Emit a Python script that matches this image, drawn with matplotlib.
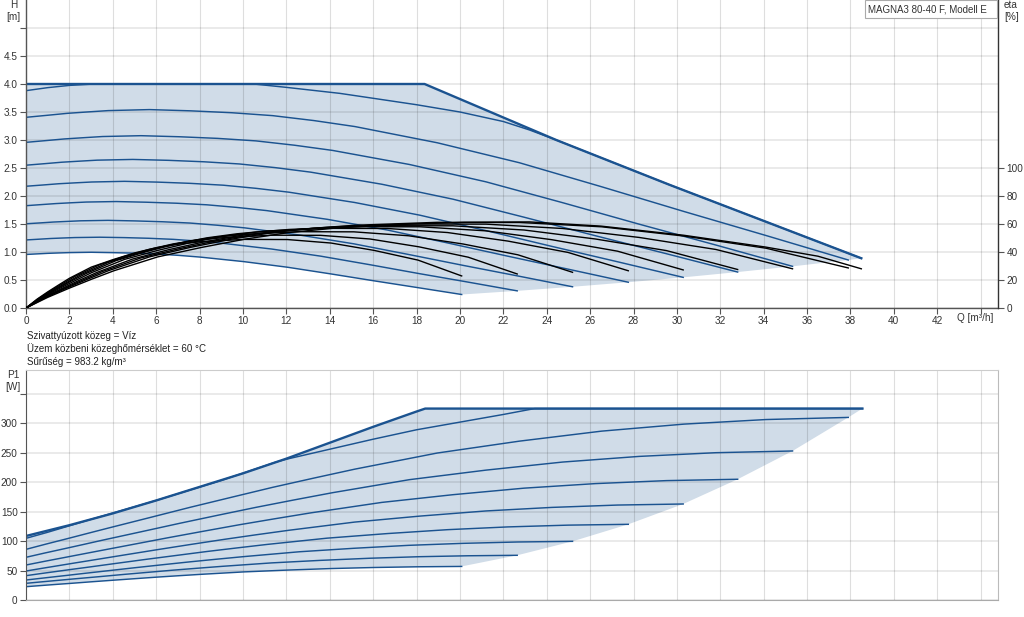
import matplotlib
matplotlib.use("Agg")
import matplotlib.pyplot as plt
from matplotlib.patches import Rectangle

# ---------------- data ----------------
# Max envelope (head) and max power envelope
maxH_Q = [0, 18.37, 24.44, 29.66, 38.5]
maxH_H = [4.0, 4.0, 3.0, 2.2, 0.888]
maxP_Q = [0, 2, 4, 6, 8, 10, 12, 14, 16, 18, 18.4, 38.55]
maxP_P = [108.7, 127, 147, 169, 192, 215, 240, 267, 294, 320, 325, 325]

# c1: highest speed curve (limited by H=4.0 and by max power)
c1_Q_H = [0, 1, 2, 3, 4, 10.5, 12, 14.46, 16, 18, 20, 22, 23.2, 24.44, 29.66, 38.5]
c1_H = [3.881, 3.935, 3.975, 3.997, 4.0, 4.0, 3.94, 3.833, 3.745, 3.63, 3.5, 3.33, 3.18, 3.0, 2.2, 0.888]
c1_Q_E = [0, 1.0, 2.0, 3.03, 4.05, 6.07, 8.1, 10.1, 12.1, 14.2, 16.2, 20.2, 23.2, 26.5, 30.3, 34.1, 36.5, 38.5]
c1_E = [0, 7.6, 14.2, 20.6, 26.6, 36.5, 43.3, 49.2, 53.9, 57.0, 59.1, 61.2, 61.5, 58.5, 52.0, 43.5, 37.0, 28.0]
c1_Q_P = [0, 1, 2, 3, 6, 9, 11.5, 12, 14, 16, 18, 20, 22, 23.44, 38.55]
c1_P = [104.7, 115, 126, 137, 169, 203, 234, 239, 256, 273, 289, 302, 315, 325, 325]

# speed curves c2..c9: flow [m3/h], head [m], eta [%], P1 [W]
c2_Q = [0, 0.95, 1.9, 2.84, 3.79, 5.69, 7.58, 9.48, 11.37, 13.27, 15.16, 18.95, 22.74, 26.53, 30.32, 34.11, 37.9]
c2_H = [3.405, 3.44, 3.476, 3.501, 3.525, 3.543, 3.521, 3.487, 3.435, 3.347, 3.24, 2.951, 2.594, 2.165, 1.724, 1.294, 0.857]
c2_E = [0, 7.8, 14.4, 20.6, 26.6, 36.5, 43.3, 49.2, 53.9, 57.0, 59.1, 61.2, 61.1, 58.0, 51.4, 42.7, 28.6]
c2_P = [86, 95.2, 104.1, 113.1, 122.1, 139.8, 157.5, 174.5, 191.3, 207.0, 222.2, 249.5, 269.7, 286.7, 298.6, 306.4, 310]

c3_Q = [0, 0.88, 1.77, 2.65, 3.53, 5.30, 7.07, 8.83, 10.60, 12.37, 14.13, 17.67, 21.20, 24.73, 28.26, 31.80, 35.33]
c3_H = [2.958, 2.988, 3.019, 3.041, 3.062, 3.077, 3.058, 3.029, 2.984, 2.907, 2.814, 2.563, 2.253, 1.881, 1.497, 1.124, 0.744]
c3_E = [0, 7.6, 14.1, 20.2, 26.1, 35.8, 42.4, 48.2, 52.8, 55.9, 57.9, 60.0, 59.9, 56.8, 50.4, 41.8, 28.0]
c3_P = [72.5, 79.9, 87.1, 94.3, 101.6, 115.8, 130.1, 143.8, 157.3, 170.0, 182.2, 204.3, 220.5, 234.2, 243.8, 250.1, 253]

c4_Q = [0, 0.82, 1.64, 2.46, 3.28, 4.92, 6.56, 8.20, 9.84, 11.48, 13.12, 16.40, 19.68, 22.96, 26.24, 29.52, 32.8]
c4_H = [2.550, 2.576, 2.603, 2.622, 2.640, 2.653, 2.637, 2.611, 2.572, 2.507, 2.426, 2.210, 1.943, 1.621, 1.291, 0.969, 0.642]
c4_E = [0, 7.5, 13.8, 19.8, 25.5, 35.0, 41.6, 47.2, 51.7, 54.7, 56.7, 58.8, 58.7, 55.7, 49.3, 41.0, 27.5]
c4_P = [59.4, 65.4, 71.2, 77.0, 82.8, 94.3, 105.8, 116.9, 127.8, 138.0, 147.9, 165.7, 178.8, 189.9, 197.6, 202.7, 205]

c5_Q = [0, 0.76, 1.51, 2.27, 3.03, 4.54, 6.06, 7.57, 9.09, 10.60, 12.12, 15.15, 18.17, 21.20, 24.23, 27.26, 30.29]
c5_H = [2.174, 2.196, 2.219, 2.235, 2.250, 2.262, 2.248, 2.226, 2.193, 2.137, 2.068, 1.884, 1.656, 1.382, 1.101, 0.826, 0.547]
c5_E = [0, 7.4, 13.7, 19.6, 25.3, 34.7, 41.1, 46.7, 51.2, 54.2, 56.1, 58.1, 58.0, 55.1, 48.8, 40.6, 27.2]
c5_P = [49.2, 53.9, 58.4, 63.0, 67.5, 76.5, 85.5, 94.2, 102.7, 110.7, 118.4, 132.3, 142.5, 151.2, 157.2, 161.2, 163]

c6_Q = [0, 0.69, 1.39, 2.08, 2.78, 4.16, 5.55, 6.94, 8.33, 9.72, 11.10, 13.88, 16.66, 19.43, 22.21, 24.98, 27.76]
c6_H = [1.827, 1.846, 1.865, 1.879, 1.892, 1.901, 1.889, 1.871, 1.843, 1.796, 1.739, 1.584, 1.392, 1.162, 0.925, 0.694, 0.460]
c6_E = [0, 7.3, 13.4, 19.2, 24.7, 33.9, 40.3, 45.8, 50.1, 53.0, 55.0, 56.9, 56.8, 53.9, 47.8, 39.7, 26.6]
c6_P = [41.3, 44.9, 48.4, 51.9, 55.3, 62.2, 69.1, 75.7, 82.3, 88.4, 94.3, 105.0, 112.8, 119.4, 124.1, 127.1, 128.5]

c7_Q = [0, 0.63, 1.26, 1.89, 2.52, 3.78, 5.04, 6.30, 7.56, 8.82, 10.08, 12.60, 15.11, 17.63, 20.15, 22.67, 25.19]
c7_H = [1.504, 1.519, 1.535, 1.546, 1.557, 1.565, 1.555, 1.540, 1.517, 1.478, 1.431, 1.303, 1.146, 0.956, 0.761, 0.572, 0.379]
c7_E = [0, 6.9, 12.8, 18.3, 23.7, 32.5, 38.5, 43.8, 48.0, 50.7, 52.6, 54.5, 54.4, 51.6, 45.7, 38.0, 25.5]
c7_P = [33.9, 36.6, 39.2, 41.8, 44.5, 49.7, 54.9, 59.9, 64.8, 69.4, 73.8, 81.9, 87.8, 92.8, 96.2, 98.5, 99.6]

c8_Q = [0, 0.57, 1.13, 1.70, 2.26, 3.40, 4.53, 5.66, 6.79, 7.92, 9.06, 11.32, 13.58, 15.85, 18.11, 20.38, 22.64]
c8_H = [1.215, 1.228, 1.241, 1.250, 1.258, 1.264, 1.257, 1.245, 1.226, 1.195, 1.156, 1.053, 0.926, 0.773, 0.615, 0.462, 0.306]
c8_E = [0, 6.6, 12.2, 17.5, 22.6, 31.0, 36.8, 41.8, 45.8, 48.5, 50.2, 52.0, 51.9, 49.3, 43.7, 36.3, 24.3]
c8_P = [28.3, 30.3, 32.2, 34.1, 36.0, 39.7, 43.5, 47.1, 50.7, 54.0, 57.2, 63.0, 67.3, 70.9, 73.5, 75.1, 75.9]

c9_Q = [0, 0.50, 1.00, 1.51, 2.01, 3.01, 4.02, 5.02, 6.02, 7.03, 8.03, 10.04, 12.05, 14.06, 16.06, 18.07, 20.08]
c9_H = [0.956, 0.966, 0.976, 0.983, 0.989, 0.995, 0.988, 0.979, 0.964, 0.940, 0.909, 0.828, 0.728, 0.608, 0.484, 0.363, 0.241]
c9_E = [0, 6.2, 11.5, 16.5, 21.3, 29.2, 34.6, 39.4, 43.1, 45.6, 47.3, 49.0, 48.9, 46.4, 41.1, 34.2, 22.9]
c9_P = [22.6, 24.0, 25.4, 26.8, 28.1, 30.9, 33.6, 36.2, 38.8, 41.2, 43.5, 47.7, 50.8, 53.4, 55.2, 56.4, 57]

x_ticks = list(range(0, 45, 2))
h_ticks = [0, 0.5, 1.0, 1.5, 2.0, 2.5, 3.0, 3.5, 4.0, 4.5, 5.0]
eta_ticks = [0, 20, 40, 60, 80, 100]
p_ticks = [0, 50, 100, 150, 200, 250, 300, 350]

title_box = "MAGNA3 80-40 F, Modell E"
info_lines = ["Szivattyúzott közeg = Víz",
              "Üzem közbeni közeghőmérséklet = 60 °C",
              "Sűrűség = 983.2 kg/m³"]

# ---------------- styling ----------------
plt.rcParams['font.family'] = ['Liberation Sans', 'DejaVu Sans']
BLUE = '#1b5390'
FILL = '#d0dce8'
TXT = '#333333'
FS = 7.2

W, Hpx = 1024, 617
fig = plt.figure(figsize=(W / 100, Hpx / 100), dpi=100)


def px_axes(l, t, r, b):
    return fig.add_axes([l / W, 1 - b / Hpx, (r - l) / W, (b - t) / Hpx])


def style_grid(a):
    a.xaxis.grid(True, color='black', alpha=0.13, lw=0.8)
    a.yaxis.grid(True, color='black', alpha=0.09, lw=1.3)


speed = [(c2_Q, c2_H, c2_E, c2_P), (c3_Q, c3_H, c3_E, c3_P), (c4_Q, c4_H, c4_E, c4_P),
         (c5_Q, c5_H, c5_E, c5_P), (c6_Q, c6_H, c6_E, c6_P), (c7_Q, c7_H, c7_E, c7_P),
         (c8_Q, c8_H, c8_E, c8_P), (c9_Q, c9_H, c9_E, c9_P)]

# ---------------- top: head + efficiency ----------------
ax = px_axes(26, 0, 998, 308)
ax.set_xlim(0, 44.8)
ax.set_ylim(0, 5.5)
ax.set_axisbelow('line')

poly_x = list(maxH_Q) + [s[0][-1] for s in speed] + list(c9_Q[::-1])
poly_y = list(maxH_H) + [s[1][-1] for s in speed] + list(c9_H[::-1])
ax.fill(poly_x, poly_y, color=FILL, lw=0, zorder=1)

for q, h, e, p in speed:
    ax.plot(q, h, color=BLUE, lw=1.05, zorder=2)
ax.plot(c1_Q_H, c1_H, color=BLUE, lw=1.05, zorder=2)
ax.plot(maxH_Q, maxH_H, color=BLUE, lw=1.7, zorder=2.1)

ax.set_xticks(x_ticks)
ax.set_xticklabels([str(v) if v <= 42 else '' for v in x_ticks])
ax.set_yticks(h_ticks)
ax.set_yticklabels([f"{v:.1f}" if v < 5 else '' for v in h_ticks])
style_grid(ax)
ax.tick_params(direction='out', length=4, width=0.8, color='#555555',
               labelcolor=TXT, labelsize=FS, pad=2)
ax.spines['top'].set_visible(False)
ax.spines['right'].set_visible(False)
for sp in ('left', 'bottom'):
    ax.spines[sp].set_color('#555555')
    ax.spines[sp].set_linewidth(1.0)

ax2 = ax.twinx()
ax2.set_ylim(0, 220)
for q, h, e, p in speed:
    ax2.plot(q, e, color='black', lw=1.0, zorder=3)
ax2.plot(c1_Q_E, c1_E, color='black', lw=1.0, zorder=3)
ax2.set_yticks(eta_ticks)
ax2.set_yticklabels([str(v) for v in eta_ticks])
ax2.tick_params(direction='out', length=4, width=0.8, color='#555555',
                labelcolor=TXT, labelsize=FS, pad=2)
ax2.spines['top'].set_visible(False)
ax2.spines['left'].set_visible(False)
ax2.spines['bottom'].set_visible(False)
ax2.spines['right'].set_color('#333333')
ax2.spines['right'].set_linewidth(1.0)

# ---------------- bottom: power ----------------
ax3 = px_axes(26, 370, 998, 600)
ax3.set_xlim(0, 44.8)
ax3.set_ylim(0, 390.5)
ax3.set_axisbelow('line')

pp_x = list(maxP_Q) + [s[0][-1] for s in speed] + list(c9_Q[::-1])
pp_y = list(maxP_P) + [s[3][-1] for s in speed] + list(c9_P[::-1])
ax3.fill(pp_x, pp_y, color=FILL, lw=0, zorder=1)
for q, h, e, p in speed:
    ax3.plot(q, p, color=BLUE, lw=1.05, zorder=2)
ax3.plot(c1_Q_P, c1_P, color=BLUE, lw=1.05, zorder=2)
ax3.plot(maxP_Q, maxP_P, color=BLUE, lw=1.7, zorder=2.1)

ax3.set_xticks(x_ticks)
ax3.set_xticklabels([])
ax3.set_yticks(p_ticks)
ax3.set_yticklabels([str(v) if v < 350 else '' for v in p_ticks])
style_grid(ax3)
ax3.tick_params(axis='y', direction='out', length=4, width=0.8, color='#555555',
                labelcolor=TXT, labelsize=FS, pad=2)
ax3.tick_params(axis='x', length=0)
ax3.spines['left'].set_color('#555555')
ax3.spines['bottom'].set_color('#aaaaaa')
ax3.spines['right'].set_color('#bbbbbb')
ax3.spines['top'].set_color('#cccccc')

# ---------------- texts ----------------
fig.text(13.5 / W, 1 - 11 / Hpx, "H\n[m]", ha='center', va='center', fontsize=FS,
         color=TXT, linespacing=1.15)
fig.text(1004 / W, 1 - 11 / Hpx, "eta\n[%]", ha='left', va='center', fontsize=FS,
         color=TXT, linespacing=1.15)
fig.text(13 / W, 1 - 381 / Hpx, "P1\n[W]", ha='center', va='center', fontsize=FS,
         color=TXT, linespacing=1.15)
fig.text(993 / W, 1 - 318 / Hpx, "Q [m³/h]", ha='right', va='center', fontsize=FS,
         color=TXT)
for i, line in enumerate(info_lines):
    fig.text(27 / W, 1 - (336 + 13 * i) / Hpx, line, ha='left', va='center',
             fontsize=7, color='#222222')

fig.add_artist(Rectangle((865 / W, 1 - 18 / Hpx), (997 - 865) / W, 18 / Hpx,
                         transform=fig.transFigure, facecolor='white',
                         edgecolor='#aaaaaa', lw=0.8, zorder=5))
fig.text(868 / W, 1 - 9 / Hpx, title_box, ha='left', va='center', fontsize=7,
         color=TXT, zorder=6)

fig.savefig("out.png", dpi=100)
